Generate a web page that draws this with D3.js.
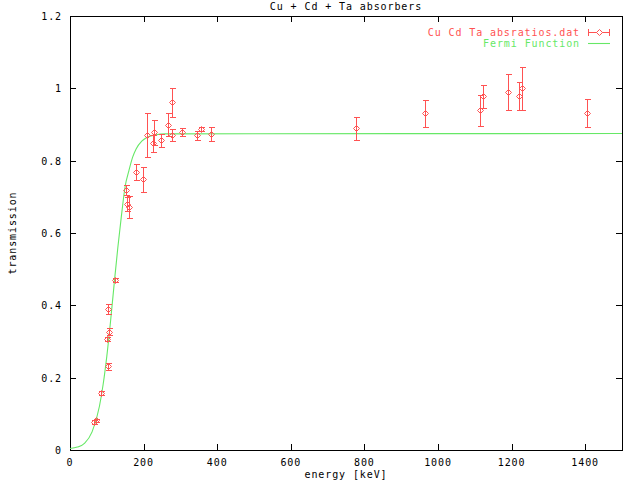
<!DOCTYPE html>
<html>
<head>
<meta charset="utf-8">
<script src="https://cdn.jsdelivr.net/npm/d3@7"></script>
<style>
  body { margin: 0; background: #fff; }
  text { font-family: "DejaVu Sans Mono", monospace; font-size: 10px; letter-spacing: 0.9px; fill: #000; }
</style>
</head>
<body>
<div id="chart_id"></div>
<script>
// measured points: energy [keV], transmission, error
var energy = [66, 72, 85, 102, 101, 107, 104, 123, 152, 156, 160, 180, 199, 210, 225, 228,
              246, 265, 278, 278, 303, 344, 357, 383, 778, 964, 1113, 1122, 1190, 1221, 1229, 1405];
var trans  = [0.078, 0.082, 0.157, 0.231, 0.307, 0.327, 0.389, 0.470, 0.718, 0.680, 0.672, 0.768,
              0.748, 0.870, 0.848, 0.878, 0.857, 0.899, 0.961, 0.870, 0.880, 0.870, 0.887, 0.873,
              0.889, 0.931, 0.939, 0.978, 0.989, 0.978, 1.000, 0.932];
var terr   = [0.005, 0.005, 0.006, 0.010, 0.006, 0.010, 0.014, 0.006, 0.014, 0.020, 0.030, 0.022,
              0.035, 0.061, 0.024, 0.034, 0.018, 0.032, 0.039, 0.017, 0.011, 0.012, 0.006, 0.019,
              0.033, 0.037, 0.043, 0.032, 0.050, 0.039, 0.059, 0.039];

// Fermi function curve
var fermiE = [0, 20, 40, 60, 80, 90, 100, 110, 120, 130, 140, 150, 160, 170, 180, 195, 210, 230, 260, 1500];
var fermiT = [0.004, 0.008, 0.019, 0.050, 0.121, 0.181, 0.259, 0.354, 0.459, 0.560, 0.650, 0.730,
              0.772, 0.809, 0.833, 0.854, 0.865, 0.871, 0.874, 0.875];

var xTicks = [0, 200, 400, 600, 800, 1000, 1200, 1400];
var yTicks = [0, 0.2, 0.4, 0.6, 0.8, 1, 1.2];

var red = "#ff5252", green = "#66e866";
var padL = 70, padR = 622, padT = 16, padB = 450;

var svg = d3.select("#chart_id").append("svg").attr("width", 640).attr("height", 480)
var x = d3.scaleLinear().domain([0, 1500]).range([padL, padR]);
var y = d3.scaleLinear().domain([0, 1.2]).range([padB, padT]);

var g = svg.append("g").attr("shape-rendering", "crispEdges");

// ticks on all four sides, pointing inward
var tl = 6;
xTicks.forEach(function(v) {
  var px = Math.round(x(v)) + 0.5;
  g.append("line").attr("x1", px).attr("x2", px).attr("y1", padB).attr("y2", padB - tl).attr("stroke", "#000");
  g.append("line").attr("x1", px).attr("x2", px).attr("y1", padT).attr("y2", padT + tl).attr("stroke", "#000");
  svg.append("text").attr("x", x(v)).attr("y", padB + 16).attr("text-anchor", "middle").text(v);
});
yTicks.forEach(function(v) {
  var py = Math.round(y(v)) + 0.5;
  g.append("line").attr("x1", padL).attr("x2", padL + tl).attr("y1", py).attr("y2", py).attr("stroke", "#000");
  g.append("line").attr("x1", padR).attr("x2", padR - tl).attr("y1", py).attr("y2", py).attr("stroke", "#000");
  svg.append("text").attr("x", padL - 8).attr("y", y(v) + 4).attr("text-anchor", "end").text(v);
});

g.append("rect").attr("x", padL + 0.5).attr("y", padT + 0.5)
  .attr("width", padR - padL).attr("height", padB - padT)
  .attr("fill", "none").attr("stroke", "#000");

// titles
svg.append("text").attr("x", (padL + padR) / 2).attr("y", 10).attr("text-anchor", "middle").text("Cu + Cd + Ta absorbers");
svg.append("text").attr("x", (padL + padR) / 2).attr("y", 478).attr("text-anchor", "middle").text("energy [keV]");
svg.append("text").attr("transform", "translate(16," + ((padT + padB) / 2) + ") rotate(-90)")
  .attr("text-anchor", "middle").text("transmission");

// fermi curve
var fermi = fermiE.map(function(e, i) { return [e, fermiT[i]]; });
svg.append("path").datum(fermi)
  .attr("d", d3.line().x(function(d) { return x(d[0]); }).y(function(d) { return y(d[1]); }).curve(d3.curveMonotoneX))
  .attr("fill", "none").attr("stroke", green).attr("stroke-width", 1.1);

// error bars + points
var pts = energy.map(function(e, i) { return {e: e, t: trans[i], err: terr[i]}; });
var cap = 3;
var eb = svg.append("g").attr("shape-rendering", "crispEdges").attr("stroke", red).attr("stroke-width", 1);
pts.forEach(function(d) {
  var px = Math.round(x(d.e)) + 0.5;
  var y1 = Math.round(y(d.t + d.err)) + 0.5, y2 = Math.round(y(d.t - d.err)) + 0.5;
  eb.append("line").attr("x1", px).attr("x2", px).attr("y1", y1).attr("y2", y2);
  eb.append("line").attr("x1", px - cap).attr("x2", px + cap).attr("y1", y1).attr("y2", y1);
  eb.append("line").attr("x1", px - cap).attr("x2", px + cap).attr("y1", y2).attr("y2", y2);
});
var diamond = function(cx, cy) {
  var r = 3;
  return "M" + cx + "," + (cy - r) + "L" + (cx + r) + "," + cy + "L" + cx + "," + (cy + r) + "L" + (cx - r) + "," + cy + "Z";
};
svg.append("g").selectAll("path").data(pts).enter().append("path")
  .attr("d", function(d) { return diamond(Math.round(x(d.e)) + 0.5, Math.round(y(d.t)) + 0.5); })
  .attr("fill", "none").attr("stroke", red).attr("stroke-width", 1);

// legend
var lx1 = 588, lx2 = 610;
svg.append("text").attr("x", 580).attr("y", 35.5).attr("text-anchor", "end").style("fill", red).text("Cu Cd Ta absratios.dat");
var leg = svg.append("g").attr("stroke", red).attr("shape-rendering", "crispEdges");
leg.append("line").attr("x1", lx1).attr("x2", lx2).attr("y1", 32.5).attr("y2", 32.5);
leg.append("line").attr("x1", lx1 + 0.5).attr("x2", lx1 + 0.5).attr("y1", 29).attr("y2", 36);
leg.append("line").attr("x1", lx2 - 0.5).attr("x2", lx2 - 0.5).attr("y1", 29).attr("y2", 36);
svg.append("path").attr("d", diamond(599.5, 32.5)).attr("fill", "#fff").attr("stroke", red);
svg.append("text").attr("x", 580).attr("y", 47).attr("text-anchor", "end").style("fill", green).text("Fermi Function");
svg.append("line").attr("x1", lx1).attr("x2", lx2).attr("y1", 43.5).attr("y2", 43.5)
  .attr("stroke", green).attr("stroke-width", 1.1);
</script>
</body>
</html>
